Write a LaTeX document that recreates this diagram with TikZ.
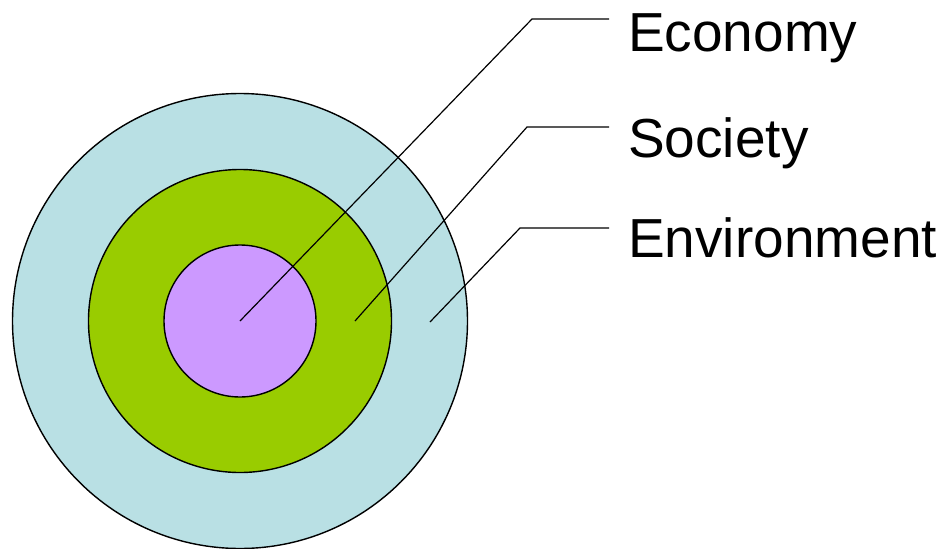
\documentclass[tikz,border=0pt]{standalone}
\usepackage{fontspec}
\setmainfont{Liberation Sans}

\begin{document}
\begin{tikzpicture}[x=1pt,y=-1pt]

\definecolor{env_blue}{HTML}{B9E0E4}
\definecolor{soc_green}{HTML}{99CC00}
\definecolor{eco_purple}{HTML}{CC99FF}

\tikzset{
  ring/.style={circle, draw=black, line width=1.4pt, inner sep=0pt},
  leader/.style={line width=1.2pt},
  label/.style={anchor=base west, inner sep=0pt, font=\fontsize{55}{66}\selectfont}
}

\useasboundingbox (0,0) rectangle (951,549);

\node[ring, fill=env_blue, minimum size=455pt] (env) at (240,321) {};
\node[ring, fill=soc_green, minimum size=303pt] (soc) at (240,321) {};
\node[ring, fill=eco_purple, minimum size=152pt] (eco) at (240,321) {};

\node[label] (eco label) at (628,51) {Economy};
\node[label] (soc label) at (628,157) {Society};
\node[label] (env label) at (628,257) {Environment};

\coordinate (eco start) at (eco.center);
\coordinate (eco bend) at (532,19);
\coordinate (eco end) at (609,19);

\coordinate (soc start) at (355,321);
\coordinate (soc bend) at (527,127);
\coordinate (soc end) at (609,127);

\coordinate (env start) at (430,322);
\coordinate (env bend) at (520,228);
\coordinate (env end) at (609,228);

\draw[leader] (eco start) -- (eco bend) -- (eco end);
\draw[leader] (soc start) -- (soc bend) -- (soc end);
\draw[leader] (env start) -- (env bend) -- (env end);

\end{tikzpicture}
\end{document}
